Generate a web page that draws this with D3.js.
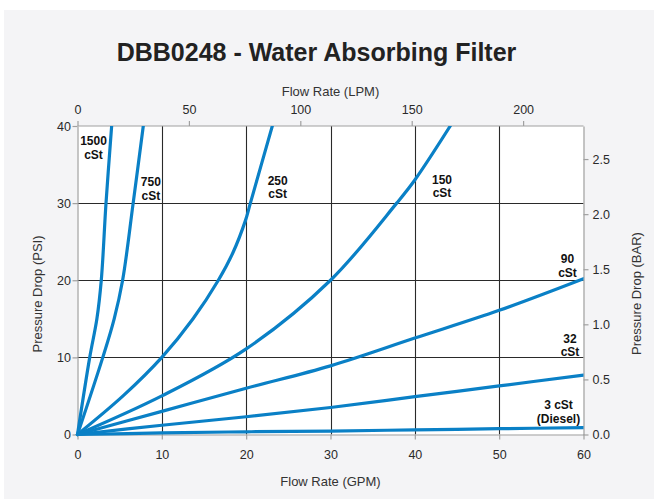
<!DOCTYPE html>
<html>
<head>
<meta charset="utf-8">
<script src="https://cdn.jsdelivr.net/npm/d3@7"></script>
<style>
  html, body { margin: 0; padding: 0; background: #ffffff; }
  svg { display: block; }
  text { font-family: "Liberation Sans", Arial, Helvetica, sans-serif; }
</style>
</head>
<body>
<div id="chart"></div>
<script>
// ---- data (GPM, PSI) ----
const seriesNames = ["1500 cSt", "750 cSt", "250 cSt", "150 cSt", "90 cSt", "32 cSt", "3 cSt"];
const cst1500 = [[0,0],[1.45,10],[2.3,15],[2.82,20],[3.38,30],[4.05,40]];
const cst750  = [[0,0],[3.0,10],[4.35,15],[5.35,20],[6.6,30],[7.8,40]];
const cst250  = [[0,0],[5.4,5],[10,10],[13.7,15],[16.7,20],[18.4,23.5],[19.9,27.7],[20.5,30],[23.1,40]];
const cst150  = [[0,0],[10,5.0],[20,11.1],[30,20],[37.85,30],[40,33],[44.2,40]];
const cst90   = [[0,0],[10,3.0],[20,6.0],[30,8.9],[40,12.5],[50,16.1],[60,20.2]];
const cst32   = [[0,0],[10,1.2],[20,2.3],[30,3.5],[40,4.9],[50,6.3],[60,7.7]];
const cst3    = [[0,0],[10,0.2],[20,0.35],[30,0.45],[40,0.6],[50,0.75],[60,0.9]];
const seriesData = [cst1500, cst750, cst250, cst150, cst90, cst32, cst3];

const curveLabels = [
  ["1500", "cSt"], ["750", "cSt"], ["250", "cSt"], ["150", "cSt"],
  ["90", "cSt"], ["32", "cSt"], ["3 cSt", "(Diesel)"]
];

const gpmTicks = [0, 10, 20, 30, 40, 50, 60];
const psiTicks = [0, 10, 20, 30, 40];
const lpmTicks = [0, 50, 100, 150, 200];
const barTicks = [0, 0.5, 1.0, 1.5, 2.0, 2.5];

const title = "DBB0248 - Water Absorbing Filter";
const xTitleBottom = "Flow Rate (GPM)";
const xTitleTop = "Flow Rate (LPM)";
const yTitleLeft = "Pressure Drop (PSI)";
const yTitleRight = "Pressure Drop (BAR)";

// ---- layout ----
const W = 654, H = 499;
const L = 77.5, R = 583.5, T = 126, B = 434.5;
const gpmMax = 60, psiMax = 40, lpmMax = 227.5, barMax = 2.8;

const svg = d3.select("#chart").append("svg").attr("width", W).attr("height", H);

svg.append("rect").attr("x", 4).attr("y", 10).attr("width", W - 4).attr("height", H - 10)
  .attr("fill", "#f4f4f6");

svg.append("rect").attr("x", L).attr("y", T).attr("width", R - L).attr("height", B - T)
  .attr("fill", "#ffffff");

const x = d3.scaleLinear().domain([0, gpmMax]).range([L, R]);
const y = d3.scaleLinear().domain([0, psiMax]).range([B, T]);
const xTop = d3.scaleLinear().domain([0, lpmMax]).range([L, L + (R - L) * lpmMax / (gpmMax * 3.785)]);
const yRight = d3.scaleLinear().domain([0, barMax]).range([B, T]);

// gridlines
const grid = svg.append("g");
grid.selectAll("line.v").data(gpmTicks.filter(d => d > 0 && d < gpmMax)).enter().append("line")
  .attr("x1", d => Math.round(x(d)) + 0.5).attr("x2", d => Math.round(x(d)) + 0.5)
  .attr("y1", T).attr("y2", B).attr("stroke", "#2a2a2a").attr("stroke-width", 1.1);
grid.selectAll("line.h").data(psiTicks.filter(d => d > 0 && d < psiMax)).enter().append("line")
  .attr("y1", d => Math.round(y(d)) + 0.5).attr("y2", d => Math.round(y(d)) + 0.5)
  .attr("x1", L).attr("x2", R).attr("stroke", "#2a2a2a").attr("stroke-width", 1.1);

// axes
function styleAxis(g) {
  g.select(".domain").attr("stroke", "#a0a0a0").attr("stroke-width", 1.2);
  g.selectAll(".tick line").attr("stroke", "#a0a0a0").attr("stroke-width", 1.2);
  g.selectAll(".tick text").attr("fill", "#2a2a2a").style("font-size", "12.5px")
    .style("font-family", '"Liberation Sans", Arial, sans-serif');
}
svg.append("g").attr("transform", `translate(0,${B})`)
  .call(d3.axisBottom(x).tickValues(gpmTicks).tickSize(5).tickSizeOuter(0).tickPadding(11))
  .call(styleAxis);
svg.append("g").attr("transform", `translate(${L},0)`)
  .call(d3.axisLeft(y).tickValues(psiTicks).tickSize(5).tickSizeOuter(0).tickPadding(1.5))
  .call(styleAxis);
const topAxis = svg.append("g").attr("transform", `translate(0,${T})`)
  .call(d3.axisTop(xTop).tickValues(lpmTicks).tickSize(5).tickSizeOuter(0).tickPadding(7))
  .call(styleAxis);
topAxis.select(".domain").attr("d", `M${L},0H${R}`);
svg.append("g").attr("transform", `translate(${R},0)`)
  .call(d3.axisRight(yRight).tickValues(barTicks).tickFormat(d3.format(".1f")).tickSize(5).tickSizeOuter(0).tickPadding(4))
  .call(styleAxis);

// curves
const clip = svg.append("clipPath").attr("id", "plotclip");
clip.append("rect").attr("x", L - 3).attr("y", T).attr("width", R - L + 3).attr("height", B - T + 3);

const line = d3.line().x(d => x(d[0])).y(d => y(d[1])).curve(d3.curveCatmullRom.alpha(0.5));
svg.append("g").attr("clip-path", "url(#plotclip)")
  .selectAll("path").data(seriesData).enter().append("path")
  .attr("d", line).attr("fill", "none").attr("stroke", "#0a80c6")
  .attr("stroke-width", 3.2).attr("stroke-linecap", "round").attr("stroke-linejoin", "round");

// curve labels: first-line baseline anchor (GPM, PSI)
const labelPos = [[1.9, 37.5], [8.7, 32.2], [23.74, 32.4], [43.22, 32.5], [58.1, 22.2], [58.4, 11.9], [57.04, 3.3]];
const lab = svg.append("g");
curveLabels.forEach((lines, i) => {
  const t = lab.append("text").attr("text-anchor", "middle")
    .attr("x", x(labelPos[i][0])).attr("y", y(labelPos[i][1]))
    .style("font-size", "12px").style("font-weight", "bold").attr("fill", "#111");
  lines.forEach((s, j) => {
    t.append("tspan").attr("x", x(labelPos[i][0])).attr("dy", j === 0 ? 0 : 13.6).text(s);
  });
});

// titles
svg.append("text").attr("x", 316.5).attr("y", 61).attr("text-anchor", "middle")
  .style("font-size", "25px").style("font-weight", "bold").attr("fill", "#222").text(title);
svg.append("text").attr("x", (L + R) / 2).attr("y", 95.5).attr("text-anchor", "middle")
  .style("font-size", "13px").attr("fill", "#333").text(xTitleTop);
svg.append("text").attr("x", (L + R) / 2).attr("y", 486).attr("text-anchor", "middle")
  .style("font-size", "13px").attr("fill", "#333").text(xTitleBottom);
svg.append("text").attr("transform", "translate(42,294) rotate(-90)").attr("text-anchor", "middle")
  .style("font-size", "13px").attr("fill", "#333").text(yTitleLeft);
svg.append("text").attr("transform", "translate(641,293.5) rotate(-90)").attr("text-anchor", "middle")
  .style("font-size", "13px").attr("fill", "#333").text(yTitleRight);
</script>
</body>
</html>
